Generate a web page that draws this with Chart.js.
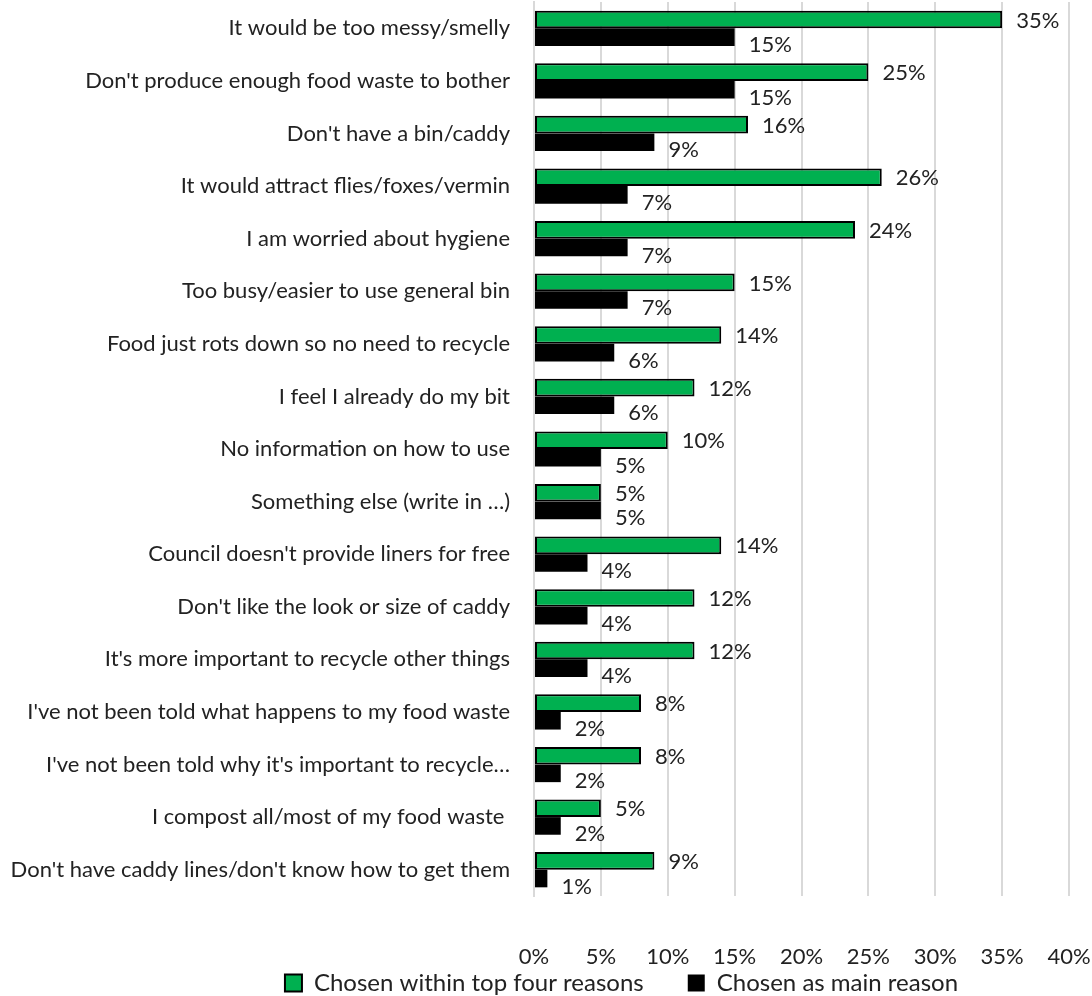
<!DOCTYPE html>
<html>
<head>
<meta charset="utf-8">
<script src="https://cdn.jsdelivr.net/npm/chart.js@4"></script>
<style>
  html, body { margin: 0; padding: 0; background: #fff; }
  #wrap { width: 1092px; height: 996px; position: relative; }
</style>
</head>
<body>
<div id="wrap"><canvas id="myChart"></canvas></div>
<script>
// Razones (orden de arriba a abajo)
const categorias = [
    'It would be too messy/smelly',
    "Don't produce enough food waste to bother",
    "Don't have a bin/caddy",
    'It would attract flies/foxes/vermin',
    'I am worried about hygiene',
    'Too busy/easier to use general bin',
    'Food just rots down so no need to recycle',
    'I feel I already do my bit',
    'No information on how to use',
    'Something else (write in \u2026)',
    "Council doesn't provide liners for free",
    "Don't like the look or size of caddy",
    "It's more important to recycle other things",
    "I've not been told what happens to my food waste",
    "I've not been told why it's important to recycle\u2026",
    'I compost all/most of my food waste ',
    "Don't have caddy lines/don't know how to get them"
];

const topCuatro = [35, 25, 16, 26, 24, 15, 14, 12, 10, 5, 14, 12, 12, 8, 8, 5, 9];
const principal = [15, 15, 9, 7, 7, 7, 6, 6, 5, 5, 4, 4, 4, 2, 2, 2, 1];

const ticksX = [0, 5, 10, 15, 20, 25, 30, 35, 40];

const fuente = 'Lato, "Open Sans", sans-serif';
const colorTexto = '#222';

// Etiquetas de valor al final de cada barra
const etiquetasPlugin = {
    id: 'etiquetas',
    afterDatasetsDraw(chart) {
        const ctx = chart.ctx;
        ctx.save();
        ctx.font = '22px ' + fuente;
        ctx.fillStyle = colorTexto;
        ctx.textBaseline = 'middle';
        ctx.textAlign = 'left';
        chart.data.datasets.forEach((ds, i) => {
            const meta = chart.getDatasetMeta(i);
            meta.data.forEach((bar, j) => {
                const dy = i === 0 ? 1 : 8;
                ctx.fillText(ds.data[j] + '%', bar.x + 14, bar.y + dy);
            });
        });
        ctx.restore();
    }
};

// Mover la leyenda un poco a la derecha, como en el original
const moverLeyenda = {
    id: 'moverLeyenda',
    afterLayout(chart) {
        chart.legend.left += 87;
        chart.legend.right += 87;
    }
};

const ctx = document.getElementById('myChart').getContext('2d');
const myChart = new Chart(ctx, {
    type: 'bar',
    data: {
        labels: categorias,
        datasets: [
            {
                label: 'Chosen within top four reasons',
                data: topCuatro,
                backgroundColor: '#00b050',
                borderColor: '#000',
                borderWidth: 2,
                borderSkipped: false,
                barPercentage: 1,
                categoryPercentage: 0.67
            },
            {
                label: 'Chosen as main reason',
                data: principal,
                backgroundColor: '#000',
                borderColor: '#000',
                borderWidth: 0,
                barPercentage: 1,
                categoryPercentage: 0.67
            }
        ]
    },
    options: {
        indexAxis: 'y',
        responsive: true,
        maintainAspectRatio: false,
        animation: false,
        layout: { padding: { top: 2, right: 23, left: 0, bottom: -9 } },
        plugins: {
            legend: {
                position: 'bottom',
                labels: {
                    font: { size: 24, family: fuente },
                    color: colorTexto,
                    boxWidth: 17,
                    boxHeight: 17,
                    padding: 1,
                    generateLabels(chart) {
                        const items = Chart.defaults.plugins.legend.labels.generateLabels(chart);
                        // separación entre elementos de la leyenda
                        items[0].text += '\u00a0\u00a0\u00a0\u00a0\u00a0\u00a0\u00a0';
                        return items;
                    }
                }
            },
            tooltip: { enabled: false }
        },
        scales: {
            x: {
                min: 0,
                max: 40,
                afterBuildTicks(scale) {
                    scale.ticks = ticksX.map(v => ({ value: v }));
                },
                afterFit(scale) {
                    scale.height = 74;
                    scale.paddingLeft = 0;
                    scale.paddingRight = 0;
                },
                ticks: {
                    callback: v => v + '%',
                    font: { size: 22, family: fuente },
                    color: colorTexto,
                    padding: 48,
                    maxRotation: 0
                },
                grid: { color: '#d9d9d9', lineWidth: 2, drawTicks: false },
                border: { display: false }
            },
            y: {
                afterFit(scale) {
                    scale.width = 534;
                    scale.paddingTop = 0;
                    scale.paddingBottom = 0;
                },
                ticks: {
                    font: { size: 22, family: fuente },
                    color: colorTexto,
                    padding: 24
                },
                grid: { display: false, drawTicks: false },
                border: { display: true, color: '#d9d9d9', width: 2 }
            }
        }
    },
    plugins: [etiquetasPlugin, moverLeyenda]
});
</script>
</body>
</html>
